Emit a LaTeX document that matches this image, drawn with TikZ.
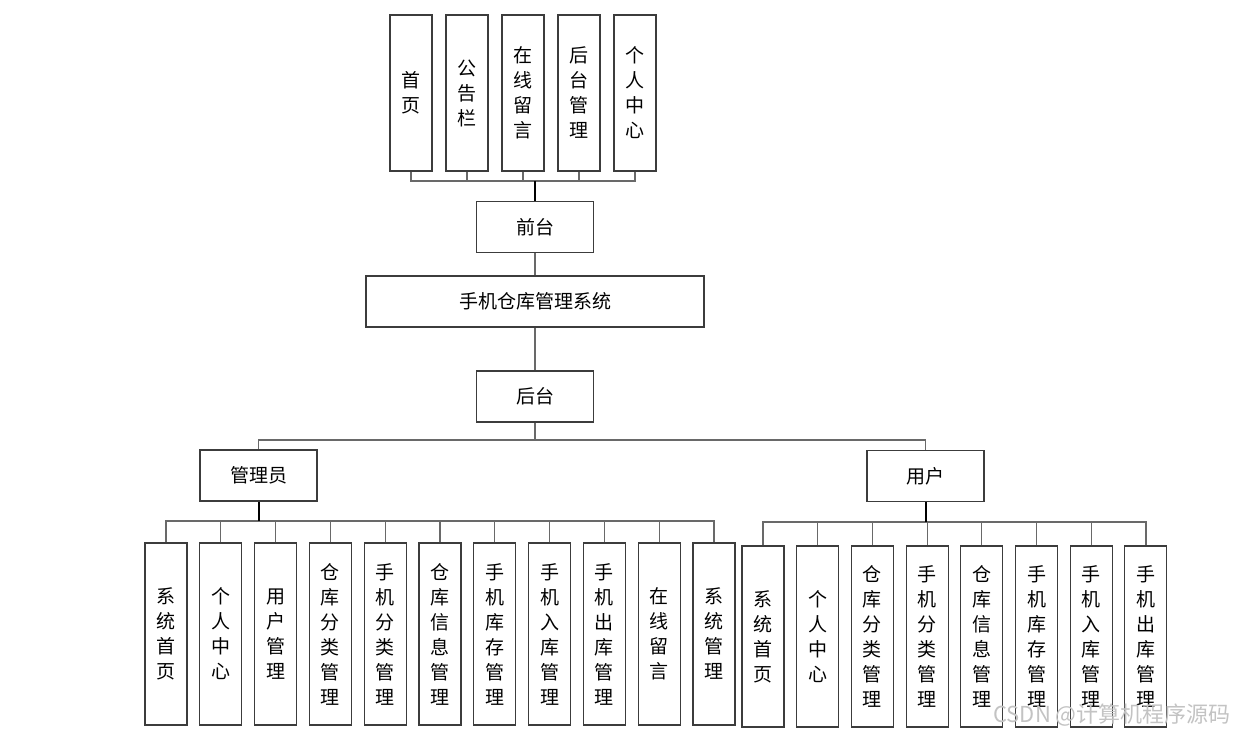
\documentclass[tikz,border=0pt]{standalone}
\usepackage{fontspec}
\newfontfamily\cjk{Noto Sans CJK SC}
\usetikzlibrary{positioning, calc}
\definecolor{boxline}{RGB}{60, 60, 60}
\definecolor{busline}{RGB}{105, 105, 105}
\definecolor{markcolor}{RGB}{195, 195, 195}

\tikzset{
  hbox/.style={draw=boxline, line width=1.1pt, minimum width=117pt, minimum height=51pt, inner sep=0pt, font=\cjk\fontsize{19}{25}\selectfont},
  vbox/.style={draw=boxline, line width=1.1pt, minimum width=42pt, inner sep=0pt, align=center, font=\cjk\fontsize{19}{25}\selectfont},
  bus/.style={draw=busline, line width=1.2pt},
  trunk/.style={draw=black, line width=2pt},
}

\begin{document}
\begin{tikzpicture}[x=1pt, y=-1pt]
        \useasboundingbox (0,0) rectangle (1245,734);
        % Front end pages
        \foreach \lab [count=\i] in {{首\\页}, {公\\告\\栏}, {在\\线\\留\\言}, {后\\台\\管\\理}, {个\\人\\中\\心}}
          \node[vbox, minimum height=156pt] (t\i) at ({411+56*(\i-1)}, 93) {\lab};

        % Main column
        \node[hbox] (qt) at (535, 227) {前台};
        \node[hbox, minimum width=338pt] (sys) at (535, 301.5) {手机仓库管理系统};
        \node[hbox] (ht) at (535, 396.5) {后台};
        \node[hbox] (adm) at (258.5, 475.5) {管理员};
        \node[hbox] (usr) at (925.5, 476) {用户};

        % Admin modules
        \foreach \lab [count=\i] in {{系\\统\\首\\页}, {个\\人\\中\\心}, {用\\户\\管\\理}, {仓\\库\\分\\类\\管\\理}, {手\\机\\分\\类\\管\\理}, {仓\\库\\信\\息\\管\\理}, {手\\机\\库\\存\\管\\理}, {手\\机\\入\\库\\管\\理}, {手\\机\\出\\库\\管\\理}, {在\\线\\留\\言}, {系\\统\\管\\理}}
          \node[vbox, minimum height=182pt] (a\i) at ({166+54.8*(\i-1)}, 634) {\lab};

        % User modules
        \foreach \lab [count=\i] in {{系\\统\\首\\页}, {个\\人\\中\\心}, {仓\\库\\分\\类\\管\\理}, {手\\机\\分\\类\\管\\理}, {仓\\库\\信\\息\\管\\理}, {手\\机\\库\\存\\管\\理}, {手\\机\\入\\库\\管\\理}, {手\\机\\出\\库\\管\\理}}
          \node[vbox, minimum height=181pt] (u\i) at ({763+54.7*(\i-1)}, 636.5) {\lab};

        % Bus levels
        \coordinate (topbus) at (0, 181);
        \coordinate (mainbus) at (0, 440);
        \coordinate (admbus) at (0, 521);
        \coordinate (usrbus) at (0, 522);

        % Connections
        \foreach \i in {1,...,5}
          \draw[bus] (t\i.south) -- (t\i.south |- topbus) -| (qt.north);
        \draw[trunk] (qt.north) -- (qt.north |- topbus);
        \draw[bus] (qt.south) -- (sys.north);
        \draw[bus] (sys.south) -- (ht.north);
        \draw[bus] (ht.south) -- (ht.south |- mainbus) -| (adm.north);
        \draw[bus] (ht.south) -- (ht.south |- mainbus) -| (usr.north);
        \foreach \i in {1,...,11}
          \draw[bus] (a\i.north) -- (a\i.north |- admbus) -| (adm.south);
        \draw[trunk] (adm.south) -- (adm.south |- admbus);
        \foreach \i in {1,...,8}
          \draw[bus] (u\i.north) -- (u\i.north |- usrbus) -| (usr.south);
        \draw[trunk] (usr.south) -- (usr.south |- usrbus);

        % Watermark
        \node[text=markcolor, font=\cjk\fontsize{22}{24}\selectfont] (mark) at (1112, 715) {CSDN @计算机程序源码};
\end{tikzpicture}
\end{document}
